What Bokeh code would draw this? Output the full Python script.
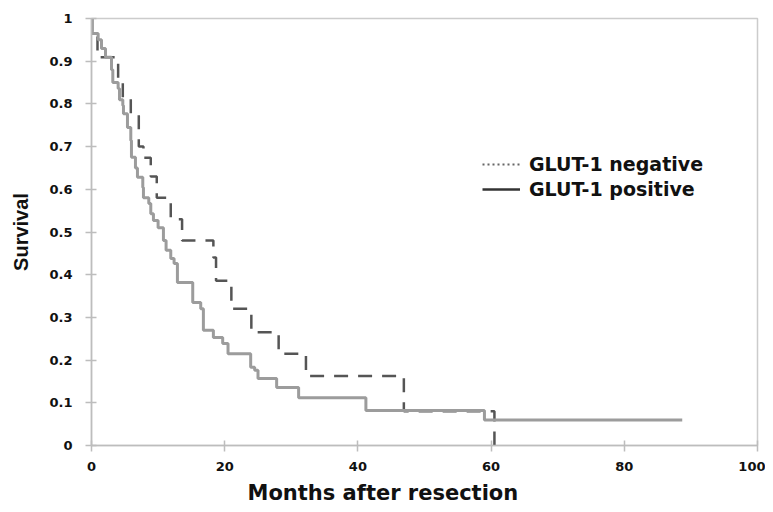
from bokeh.plotting import figure
from bokeh.models import Range1d, FixedTicker, Legend, LegendItem, Title
from bokeh.embed import file_html
from bokeh.resources import INLINE

# GLUT-1 negative (upper, dark dashed) Kaplan-Meier steps
neg_months = [0, 0.1, 0.9, 4.0, 4.7, 5.9, 7.1, 7.8, 8.9, 9.8, 11.9, 13.6,
              18.3, 18.7, 21.0, 24.0, 28.1, 32.2, 46.9, 60.5]
neg_surv = [1.0, 0.96, 0.909, 0.86, 0.815, 0.777, 0.70, 0.674, 0.63, 0.58, 0.53, 0.48,
            0.44, 0.386, 0.32, 0.265, 0.215, 0.163, 0.08, 0.0]

# GLUT-1 positive (lower, light gray solid)
pos_months = [0, 0.1, 1.0, 1.5, 2.1, 3.0, 3.2, 4.0, 4.2, 4.7, 4.8, 5.4, 5.9, 6.0,
              6.6, 6.9, 7.7, 7.8, 8.6, 8.9, 9.3, 10.0, 10.8, 11.2, 11.9, 12.4, 12.9,
              15.2, 16.4, 16.8, 18.3, 19.7, 20.5, 23.9, 24.5, 25.0, 27.8, 31.1, 41.2,
              59.0, 88.7]
pos_surv = [1.0, 0.965, 0.95, 0.93, 0.909, 0.88, 0.85, 0.836, 0.81, 0.796, 0.777, 0.745,
            0.714, 0.675, 0.65, 0.628, 0.604, 0.58, 0.567, 0.543, 0.527, 0.51, 0.48,
            0.457, 0.438, 0.426, 0.382, 0.335, 0.32, 0.27, 0.253, 0.239, 0.215, 0.183,
            0.176, 0.157, 0.136, 0.112, 0.082, 0.06, 0.06]

x_ticks = [0, 20, 40, 60, 80, 100]
y_ticks = [0, 0.1, 0.2, 0.3, 0.4, 0.5, 0.6, 0.7, 0.8, 0.9, 1.0]
y_tick_labels = ["0", "0.1", "0.2", "0.3", "0.4", "0.5", "0.6", "0.7", "0.8", "0.9", "1"]

WIDE = "DejaVu Sans"
NARROW = "Liberation Sans"
AXIS_GRAY = "#bdbdbd"

p = figure(width=765, height=509, output_backend="svg", toolbar_location=None,
           x_range=Range1d(0, 100), y_range=Range1d(0, 1),
           min_border_left=91, min_border_right=8, min_border_top=18, min_border_bottom=64)
p.xgrid.visible = False
p.ygrid.visible = False
p.outline_line_color = "#cccccc"
p.outline_line_width = 1.5
p.background_fill_color = "white"

for ax in (p.xaxis, p.yaxis):
    ax.axis_line_color = AXIS_GRAY
    ax.axis_line_width = 1.5
    ax.major_tick_line_color = AXIS_GRAY
    ax.major_tick_line_width = 1.5
    ax.major_tick_in = 5
    ax.major_tick_out = 6
    ax.minor_tick_line_color = None
    ax.major_label_text_font = WIDE
    ax.major_label_text_font_style = "bold"
    ax.major_label_text_font_size = "13px"
    ax.major_label_text_color = "#111111"

p.xaxis.ticker = FixedTicker(ticks=x_ticks)
p.yaxis.ticker = FixedTicker(ticks=y_ticks)
p.yaxis.major_label_overrides = {t: l for t, l in zip(y_ticks, y_tick_labels)}
p.xaxis.major_label_overrides = {t: str(t) for t in x_ticks}
p.yaxis.major_label_standoff = 13
p.xaxis.major_label_standoff = 10

p.yaxis.axis_label = "Survival"
p.yaxis.axis_label_text_font = NARROW
p.yaxis.axis_label_text_font_style = "bold"
p.yaxis.axis_label_text_font_size = "20px"
p.yaxis.axis_label_text_color = "#111111"
p.yaxis.axis_label_standoff = 14

# curves
p.step(neg_months, neg_surv, mode="after", line_color="#555555", line_width=2.5,
       line_dash="14 10")
p.step(pos_months, pos_surv, mode="after", line_color="#9c9c9c", line_width=3)

# legend sample renderers (no visible data)
nan = float("nan")
d_neg = p.line([nan], [nan], line_color="#666666", line_width=2, line_dash="2 3")
d_pos = p.line([nan], [nan], line_color="#333333", line_width=2.5)
legend = Legend(items=[LegendItem(label="GLUT-1 negative", renderers=[d_neg]),
                       LegendItem(label="GLUT-1 positive", renderers=[d_pos])],
                location=(391, 245))
legend.border_line_color = None
legend.background_fill_alpha = 0
legend.label_text_font = WIDE
legend.label_text_font_style = "bold"
legend.label_text_font_size = "19px"
legend.label_text_color = "#111111"
legend.glyph_width = 38
legend.glyph_height = 20
legend.label_height = 20
legend.label_standoff = 9
legend.spacing = 3
legend.padding = 5
legend.margin = 0
p.add_layout(legend)

xtitle = Title(text="Months after resection", align="left", offset=156, standoff=10,
               text_font=WIDE, text_font_style="bold", text_font_size="21px",
               text_color="#111111")
p.add_layout(xtitle, "below")

open("out.html", "w").write(file_html(p, INLINE))
